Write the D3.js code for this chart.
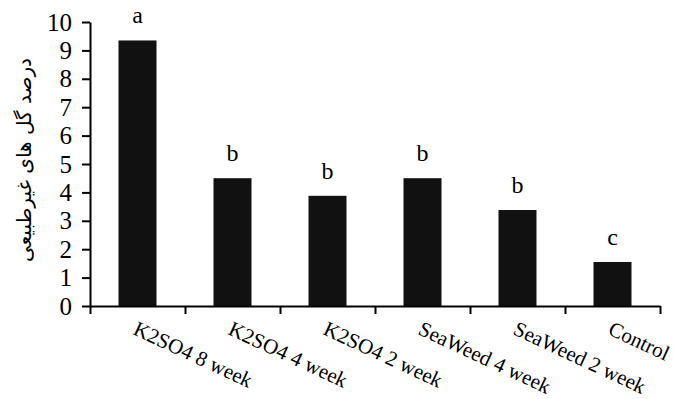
<!DOCTYPE html>
<html>
<head>
<meta charset="utf-8">
<script src="https://cdn.jsdelivr.net/npm/d3@7"></script>
<style>
  body { margin: 0; background: #fff; }
  svg text { fill: #000; }
  .yaxis .tick text { font-family: "Liberation Serif", serif; font-size: 25px; }
</style>
</head>
<body>
<div id="chart"></div>
<script>
var categories = ["K2SO4 8 week", "K2SO4 4 week", "K2SO4 2 week", "SeaWeed 4 week", "SeaWeed 2 week", "Control"];
var values = [9.35, 4.5, 3.88, 4.5, 3.38, 1.55];
var letters = ["a", "b", "b", "b", "b", "c"];
var yTicks = [0, 1, 2, 3, 4, 5, 6, 7, 8, 9, 10];
var yTitle = "درصد گل های غیرطبیعی";

function init(){
    var w = 673;
    var h = 399;
    var left = 90, right = 660, top = 22, bottom = 306;

    var svg = d3.select("#chart")
        .append("svg")
        .attr("width", w)
        .attr("height", h);

    var x = d3.scaleBand()
        .domain(categories)
        .range([left, right])
        .paddingInner(0.6)
        .paddingOuter(0.3);

    // edges of each category, for the x tick marks
    var xEdge = d3.scaleLinear()
        .domain([0, categories.length])
        .range([left, right]);

    var y = d3.scaleLinear()
        .domain([0, 10])
        .range([bottom, top]);

    svg.selectAll("rect.bar")
        .data(values)
        .enter()
        .append("rect")
        .attr("class", "bar")
        .attr("x", function(d, i) { return x(categories[i]); })
        .attr("y", function(d) { return y(d); })
        .attr("width", x.bandwidth())
        .attr("height", function(d) { return bottom - y(d); })
        .attr("fill", "#111");

    // significance letters
    svg.selectAll("text.letter")
        .data(values)
        .enter()
        .append("text")
        .attr("class", "letter")
        .attr("x", function(d, i) { return x(categories[i]) + x.bandwidth() / 2; })
        .attr("y", function(d) { return y(d) - 17; })
        .attr("text-anchor", "middle")
        .style("font-family", "Liberation Serif")
        .style("font-size", "24px")
        .text(function(d, i) { return letters[i]; });

    var yAxis = svg.append("g")
        .attr("class", "yaxis")
        .attr("transform", "translate(" + left + ",0)")
        .call(d3.axisLeft(y).tickValues(yTicks).tickSize(8).tickSizeOuter(0).tickPadding(10));
    yAxis.attr("font-family", null).attr("font-size", null);

    var xAxis = svg.append("g")
        .attr("transform", "translate(0," + bottom + ")")
        .call(d3.axisBottom(xEdge).tickValues(d3.range(categories.length + 1)).tickFormat("").tickSize(8).tickSizeOuter(0));

    svg.selectAll(".domain, .tick line")
        .attr("stroke", "#000")
        .attr("stroke-width", 2);

    // rotated category labels
    svg.selectAll("text.cat")
        .data(categories)
        .enter()
        .append("text")
        .attr("class", "cat")
        .attr("transform", function(d) {
            return "translate(" + (x(d) + x.bandwidth() / 2 + 1) + ",320) rotate(25)";
        })
        .attr("dominant-baseline", "hanging")
        .style("font-family", "Liberation Serif")
        .style("font-size", "21px")
        .text(function(d) { return d; });

    svg.append("text")
        .attr("transform", "translate(25,160) rotate(-90)")
        .attr("text-anchor", "middle")
        .attr("dominant-baseline", "middle")
        .attr("direction", "rtl")
        .style("font-family", "DejaVu Sans")
        .style("font-size", "20px")
        .text(yTitle);
}
window.onload = init;
</script>
</body>
</html>
